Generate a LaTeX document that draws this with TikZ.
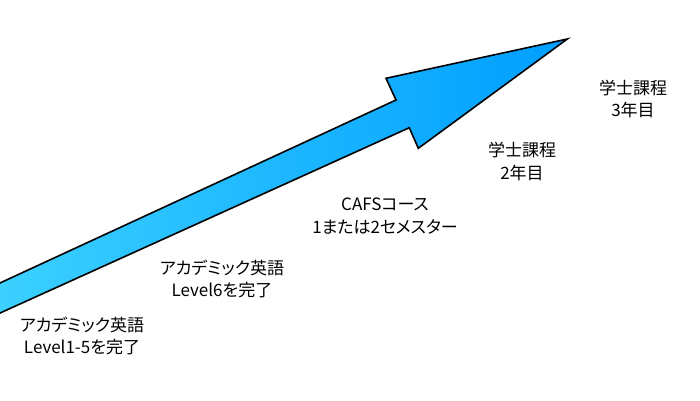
\documentclass[tikz,border=0pt]{standalone}
\usepackage{fontspec}
\setmainfont{Noto Sans CJK JP}[RawFeature=+palt]
\begin{document}
\begin{tikzpicture}[x=1pt,y=-1pt,
  lbl/.style={align=center,inner sep=0pt,font=\fontsize{17}{22.5}\selectfont,text=black}]
\useasboundingbox (0,0) rectangle (700,400);
\begin{scope}
\clip (0,0) rectangle (700,400);
\path[draw=black,line width=1.6pt,line join=miter,
  left color={rgb,255:red,61;green,210;blue,255},
  right color={rgb,255:red,0;green,158;blue,255}]
  (-20,292.2) -- (396,100) -- (386,78.3) -- (567.3,39) -- (418.3,148.3) -- (409.3,127.7) -- (-20,322.1) -- cycle;
\end{scope}
\node[lbl] (n1) at (82,336) {アカデミック英語\\Level1-5を完了};
\node[lbl] (n2) at (222,279) {アカデミック英語\\Level6を完了};
\node[lbl] (n3) at (385,216) {CAFSコース\\1または2セメスター};
\node[lbl] (n4) at (522,161.5) {学士課程\\2年目};
\node[lbl] (n5) at (633,99) {学士課程\\3年目};
\end{tikzpicture}
\end{document}
